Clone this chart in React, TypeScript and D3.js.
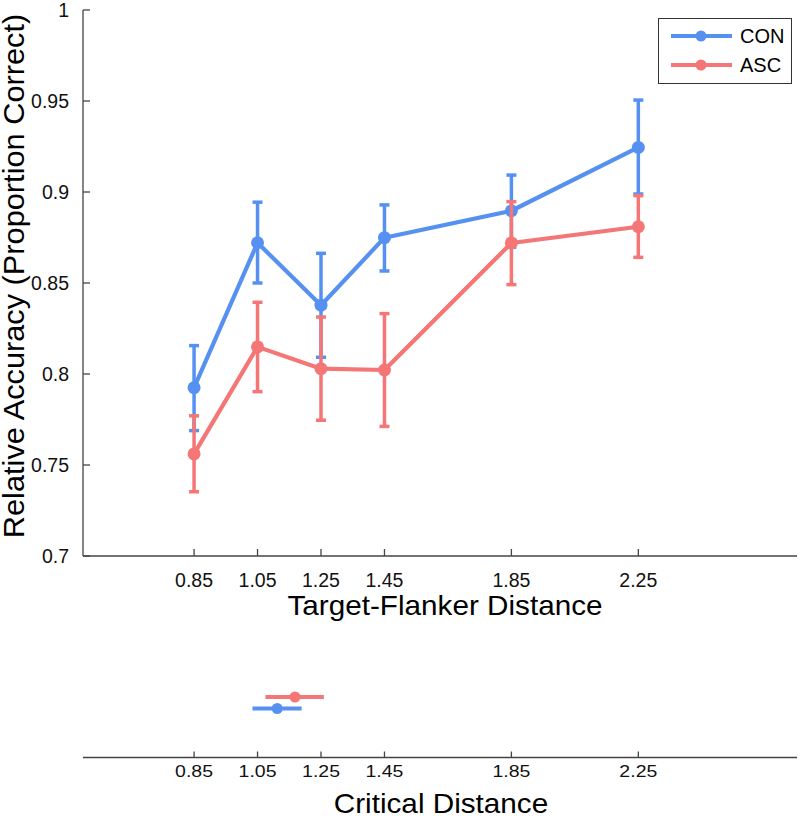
import React from "react";
import * as d3 from "d3";

const distances = [0.85, 1.05, 1.25, 1.45, 1.85, 2.25];
const conMean = [0.7925, 0.8721, 0.8378, 0.8749, 0.8897, 0.9245];
const conLow = [0.7689, 0.85, 0.8092, 0.8566, 0.8697, 0.8989];
const conHigh = [0.8156, 0.8944, 0.8663, 0.8929, 0.9093, 0.9505];
const ascMean = [0.7561, 0.8149, 0.8029, 0.8022, 0.872, 0.8809];
const ascLow = [0.7353, 0.7903, 0.7746, 0.7712, 0.8491, 0.8641];
const ascHigh = [0.777, 0.8394, 0.8313, 0.8332, 0.8947, 0.898];
const yTicks = [0.7, 0.75, 0.8, 0.85, 0.9, 0.95, 1];
const yTickLabels = ["0.7", "0.75", "0.8", "0.85", "0.9", "0.95", "1"];
const critGroups = ["ASC", "CON"];
const critMean = [1.168, 1.112];
const critLow = [1.075, 1.034];
const critHigh = [1.259, 1.189];

const BLUE = "#5691F2";
const RED = "#F47676";
const FONT = "Arial, 'Liberation Sans', sans-serif";

export default function App() {
  const x = d3.scaleLinear().domain([0.5, 2.75]).range([83, 797]);
  const y = d3.scaleLinear().domain([0.7, 1]).range([556, 10]);
  const critY = d3.scalePoint().domain(critGroups).range([697, 708.5]);
  const line = d3
    .line<number>()
    .x((_, i) => x(distances[i]))
    .y((d) => y(d));

  const series = [
    { name: "CON", color: BLUE, mean: conMean, low: conLow, high: conHigh },
    { name: "ASC", color: RED, mean: ascMean, low: ascLow, high: ascHigh },
  ];
  const axisColor = "#444";

  return (
    <svg width={800} height={816} style={{ position: "absolute", left: 0, top: 0, background: "#fff" }}>
      {/* y axis */}
      <line x1={83} x2={83} y1={y(1)} y2={y(0.7)} stroke={axisColor} strokeWidth={1.3} />
      {yTicks.map((t, i) => (
        <g key={t}>
          <line x1={83} x2={90} y1={y(t)} y2={y(t)} stroke={axisColor} strokeWidth={1.3} />
          <text x={69} y={y(t)} dy="0.36em" textAnchor="end" fontFamily={FONT} fontSize={19.5} fill="#111">
            {yTickLabels[i]}
          </text>
        </g>
      ))}
      <text
        transform={`translate(24,276) rotate(-90) scale(1.06,1)`}
        textAnchor="middle"
        fontFamily={FONT}
        fontSize={29}
        fill="#000"
      >
        Relative Accuracy (Proportion Correct)
      </text>
      {/* x axis main */}
      <line x1={83} x2={797} y1={556} y2={556} stroke={axisColor} strokeWidth={1.3} />
      {distances.map((d) => (
        <g key={d}>
          <line x1={x(d)} x2={x(d)} y1={556} y2={549} stroke={axisColor} strokeWidth={1.3} />
          <text x={x(d)} y={586.5} textAnchor="middle" fontFamily={FONT} fontSize={19.5} fill="#111">
            {d.toFixed(2)}
          </text>
        </g>
      ))}
      <text transform="translate(445,614.5) scale(1.06,1)" textAnchor="middle" fontFamily={FONT} fontSize={28} fill="#000">
        Target-Flanker Distance
      </text>
      {/* series */}
      {series.map((s) => (
        <g key={s.name}>
          {s.mean.map((m, i) => (
            <g key={i}>
              <line x1={x(distances[i])} x2={x(distances[i])} y1={y(s.low[i])} y2={y(s.high[i])} stroke={s.color} strokeWidth={3.5} />
              <line x1={x(distances[i]) - 5} x2={x(distances[i]) + 5} y1={y(s.low[i])} y2={y(s.low[i])} stroke={s.color} strokeWidth={3.5} />
              <line x1={x(distances[i]) - 5} x2={x(distances[i]) + 5} y1={y(s.high[i])} y2={y(s.high[i])} stroke={s.color} strokeWidth={3.5} />
            </g>
          ))}
          <path d={line(s.mean) || ""} fill="none" stroke={s.color} strokeWidth={4.2} strokeLinejoin="round" />
          {s.mean.map((m, i) => (
            <circle key={i} cx={x(distances[i])} cy={y(m)} r={6.5} fill={s.color} />
          ))}
        </g>
      ))}
      {/* legend */}
      <rect x={658.5} y={18.5} width={133} height={65} fill="#fff" stroke="#333" strokeWidth={1} />
      {series.map((s, i) => (
        <g key={s.name}>
          <line x1={671} x2={732} y1={36 + i * 29} y2={36 + i * 29} stroke={s.color} strokeWidth={4} />
          <circle cx={701} cy={36 + i * 29} r={5.5} fill={s.color} />
          <text x={740} y={36 + i * 29} dy="0.36em" fontFamily={FONT} fontSize={20} fill="#000">
            {s.name}
          </text>
        </g>
      ))}
      {/* critical distance panel */}
      {critGroups.map((g, i) => {
        const c = g === "ASC" ? RED : BLUE;
        return (
          <g key={g}>
            <line x1={x(critLow[i])} x2={x(critHigh[i])} y1={critY(g)} y2={critY(g)} stroke={c} strokeWidth={4} />
            <circle cx={x(critMean[i])} cy={critY(g)} r={5.5} fill={c} />
          </g>
        );
      })}
      <line x1={83} x2={797} y1={757.5} y2={757.5} stroke={axisColor} strokeWidth={1.3} />
      {distances.map((d) => (
        <g key={"c" + d}>
          <line x1={x(d)} x2={x(d)} y1={757.5} y2={751.5} stroke={axisColor} strokeWidth={1.3} />
          <text
            transform={`translate(${x(d)},777) scale(1,0.82)`}
            textAnchor="middle"
            fontFamily={FONT}
            fontSize={19.5}
            fill="#111"
          >
            {d.toFixed(2)}
          </text>
        </g>
      ))}
      <text transform="translate(441,813) scale(1.08,1)" textAnchor="middle" fontFamily={FONT} fontSize={27.5} fill="#000">
        Critical Distance
      </text>
    </svg>
  );
}
